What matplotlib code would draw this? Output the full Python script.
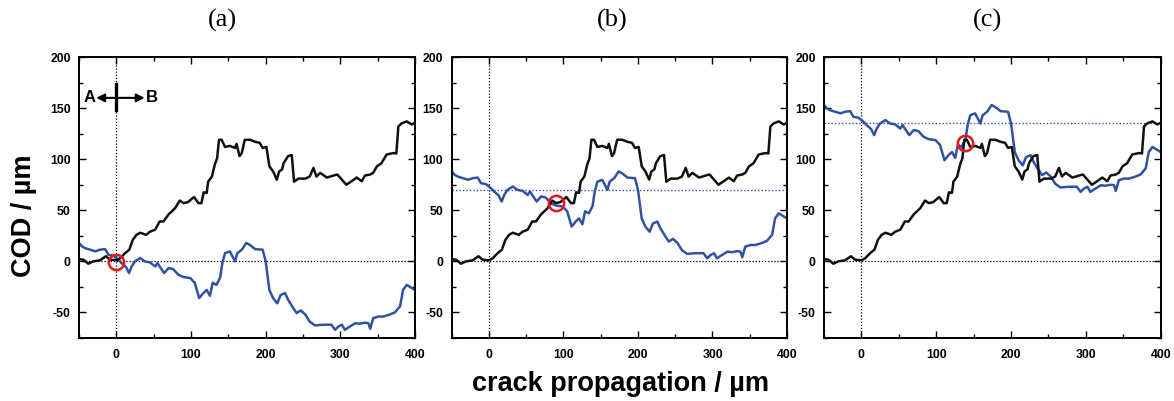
import matplotlib
matplotlib.use("Agg")
import matplotlib.pyplot as plt
from matplotlib.ticker import MultipleLocator

plt.rcParams["axes.unicode_minus"] = False

# ---------------- data ----------------
black_x = [-50, -44, -37.5, -31, -22, -14, -8.5, 0, 5, 11.6, 17.4, 22, 27, 32, 40, 45, 52, 58, 63, 70,
           78.6, 85, 90, 96, 104, 110, 114, 117, 121, 123, 128, 132, 135, 137.5, 141, 145.5, 152, 159,
           161, 165, 168, 172, 179, 186, 192, 196, 201, 205, 210, 215, 218, 222, 224, 230, 235, 238,
           244, 253, 259, 264, 268, 273, 282, 291, 296, 302, 308, 315, 322, 328.6, 333, 340, 344, 349,
           355, 362, 371, 375, 377.7, 382, 389, 395.5, 400]
black_y = [2.3, 1.6, -2.3, 0, 1, 5, 1.6, 1, 3, 8, 11.4, 21, 26, 28, 26, 29, 31, 39, 39, 46,
           52, 59.5, 57, 58, 63, 57, 57, 67.6, 67, 78, 83, 95, 101, 119, 119, 112, 113, 111,
           115, 103, 106, 119, 119, 117, 116, 111, 112, 93, 88, 80, 88, 90, 96, 103, 104, 78,
           81, 81, 83, 91.5, 83, 86.6, 82, 84, 85, 80, 75, 78.4, 82, 78.4, 84, 85, 86.6, 93,
           96, 104.6, 106, 105.6, 132, 135, 137, 134, 135.6]

blue_x = [-50, -46, -42, -35, -28, -22, -15, -10.7, -4, 2.7, 7, 13, 17, 20.5, 25, 32, 38, 45, 52, 55,
          58, 64, 70, 76, 83, 90, 99, 105, 111, 116.5, 121, 125.4, 129, 134, 139, 142, 145.5, 152,
          159, 162, 168, 174, 179, 186, 196, 200, 205, 210, 215.6, 220, 226, 230, 237, 241.5, 247,
          253, 259, 266, 277, 288, 293, 297, 302, 306, 313, 320, 326, 333, 337.5, 340, 344, 351,
          357.6, 366.5, 373, 380, 384, 389, 395.5, 400]
blue_y = [18, 14.7, 13, 11.4, 9.8, 11.4, 12, 6.5, 5.6, 1.6, -1.6, -5.6, -11.4, -5, 0, 3.3, 0, -1, -5, -1.6,
          -5, -11.4, -6.5, -7.5, -13, -15.4, -16.3, -21, -36, -31, -28, -33.7, -21, -23, -16, -1.6, 8, 9.8,
          0, 8, 11.4, 18, 16, 12, 11.4, 0, -28, -36, -41, -33, -31, -37.6, -45.8, -50.6, -48,
          -52, -59, -62.7, -62, -62, -67, -64, -62, -67, -63.7, -60.5, -61, -60, -60.5, -66, -55.6, -54,
          -54, -52, -50, -44, -28, -23, -26, -28]

panel_labels = ["(a)", "(b)", "(c)"]
blue_offsets = [0, 70, 135]
circle_x = [0, 90, 139]
circle_y = [-1, 57, 116]

x_ticks = [0, 100, 200, 300, 400]
y_ticks = [-50, 0, 50, 100, 150, 200]

# ---------------- style ----------------
tick_font = ["Liberation Sans", "DejaVu Sans"]
BLUE = "#3152a3"

fig = plt.figure(figsize=(11.74, 4.01), dpi=100)
lefts = [79, 451.7, 824]
rights = [415, 787, 1160.7]
title_x = [222, 612, 988]
W, H = 1174.0, 401.0
bottom = 1 - 338 / H
height = (338 - 57) / H

for i in range(3):
    ax = fig.add_axes([lefts[i] / W, bottom, (rights[i] - lefts[i]) / W, height])
    ax.set_xlim(-50, 400)
    ax.set_ylim(-75, 200)
    # reference lines
    ax.axhline(0, color="black", lw=0.9, ls=(0, (1, 1.5)), zorder=1)
    ax.axvline(0, color="black", lw=0.9, ls=(0, (1, 1.5)), zorder=1)
    if blue_offsets[i] != 0:
        ax.axhline(blue_offsets[i], color=BLUE, lw=1.0, ls=(0, (1, 1.5)), zorder=1)
    ax.plot(black_x, black_y, color="#111111", lw=1.8, zorder=3)
    ax.plot(blue_x, [v + blue_offsets[i] for v in blue_y], color=BLUE, lw=1.8, zorder=2)
    ax.plot([circle_x[i]], [circle_y[i]], marker="o", ms=11, mfc="none", mec="#e8161b", mew=1.8,
            zorder=4, ls="none")

    ax.set_xticks(x_ticks)
    ax.set_yticks(y_ticks)
    ax.xaxis.set_minor_locator(MultipleLocator(50))
    ax.yaxis.set_minor_locator(MultipleLocator(25))
    ax.tick_params(which="both", direction="in", top=True, right=True, width=1.0)
    ax.tick_params(which="major", length=5, labelsize=8.8, pad=6)
    ax.tick_params(axis="x", which="major", pad=8)
    ax.tick_params(which="minor", length=3)
    for lab in ax.get_xticklabels() + ax.get_yticklabels():
        lab.set_family(tick_font)
        lab.set_fontweight("bold")
    for sp in ax.spines.values():
        sp.set_linewidth(1.4)

    fig.text(title_x[i] / W, 1 - 20 / H, panel_labels[i], ha="center", va="center",
             fontsize=19, family=["Liberation Serif", "DejaVu Serif"])

    if i == 0:
        ax.annotate("", xy=(-27, 160), xytext=(38, 160),
                    arrowprops=dict(arrowstyle="<|-|>", color="black", lw=1.5,
                                    mutation_scale=12, shrinkA=0, shrinkB=0))
        ax.plot([0, 0], [148, 174], color="black", lw=2.4, zorder=5)
        ax.text(-36, 160, "A", ha="center", va="center", fontsize=12, fontweight="bold",
                family="Liberation Sans")
        ax.text(48, 160, "B", ha="center", va="center", fontsize=12, fontweight="bold",
                family="Liberation Sans")

fig.text(24 / W, 1 - 216 / H, "COD / µm", rotation=90, ha="center", va="center",
         fontsize=19.5, fontweight="bold", family=tick_font)
fig.text(620 / W, 1 - 384 / H, "crack propagation / µm", ha="center", va="center",
         fontsize=19.5, fontweight="bold", family=tick_font)

fig.savefig("out.png", dpi=100)
